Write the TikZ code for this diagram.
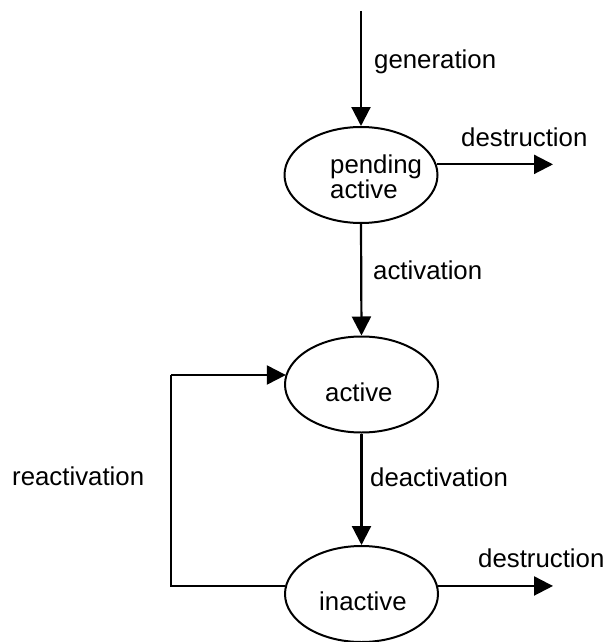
\documentclass[tikz,border=0pt]{standalone}
\usepackage{fontspec}
\setmainfont{Liberation Sans}
\usetikzlibrary{shapes.geometric,arrows.meta}
\begin{document}
\begin{tikzpicture}[x=1pt,y=-1pt,
  font=\fontsize{25.8}{24.5}\selectfont,
  state/.style={draw,ellipse,line width=2pt,minimum width=153pt,minimum height=96pt,inner sep=0pt},
  lbl/.style={anchor=base west,inner sep=0pt,align=left},
  arr/.style={line width=2.2pt,-{Triangle[length=19pt,width=19pt]}},
  plain/.style={line width=2.2pt}]
\useasboundingbox (0,0) rectangle (610,642);

% states
\node[state] (p) at (361,175) {};
\node[state] (a) at (361.5,384.5) {};
\node[state] (i) at (361.5,594) {};

% state names (the two-line name is anchored on its last baseline)
\node[lbl] (pt) at (330,198) {pending\\active};
\node[lbl] (at) at (325,401) {active};
\node[lbl] (it) at (319,610) {inactive};

% free ends of the open arrows
\coordinate (gstart) at (361,11);
\coordinate (d1end) at (553,164);
\coordinate (d2end) at (553,586);
\coordinate (rc) at (171,375);

% transitions
\draw[arr] (gstart) -- (p.north);
\draw[arr] (p.8.5) -- (p.8.5 -| d1end);
\draw[arr] (p.south) -- (a.north);
\draw[arr] (a.south) -- (i.north);
\draw[arr] (i.6) -- (i.6 -| d2end);
\draw[plain] (i.174) -| (rc);
\draw[arr] (rc) -- (rc -| a.172.8);

% transition labels
\node[lbl] (lg) at (374,68) {generation};
\node[lbl] (ld1) at (461,146) {destruction};
\node[lbl] (la) at (373,279) {activation};
\node[lbl] (ld) at (370,486) {deactivation};
\node[lbl] (lr) at (12,485) {reactivation};
\node[lbl] (ld2) at (478,567) {destruction};
\end{tikzpicture}
\end{document}
